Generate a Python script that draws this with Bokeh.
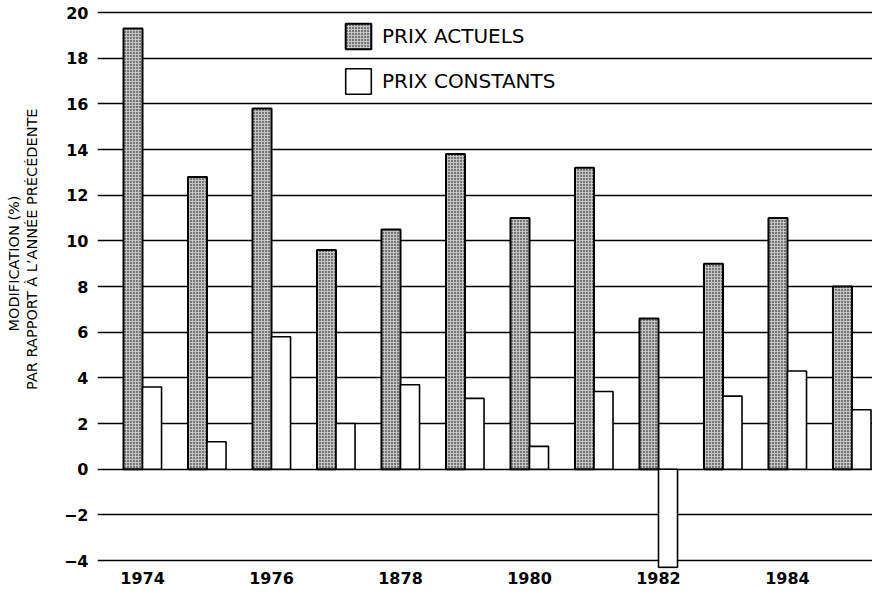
from bokeh.plotting import figure
from bokeh.models import ColumnDataSource, Range1d, FixedTicker, Legend, LegendItem, Title
from bokeh.transform import dodge
from bokeh.embed import file_html
from bokeh.resources import INLINE

# ---- data ----
years = [1974, 1975, 1976, 1977, 1978, 1979, 1980, 1981, 1982, 1983, 1984, 1985]
prix_actuels = [19.3, 12.8, 15.8, 9.6, 10.5, 13.8, 11.0, 13.2, 6.6, 9.0, 11.0, 8.0]
prix_constants = [3.6, 1.2, 5.8, 2.0, 3.7, 3.1, 1.0, 3.4, -4.3, 3.2, 4.3, 2.6]
x_ticks = [1974, 1976, 1978, 1980, 1982, 1984]
x_tick_labels = ["1974", "1976", "1878", "1980", "1982", "1984"]
y_ticks = [-4, -2, 0, 2, 4, 6, 8, 10, 12, 14, 16, 18, 20]
series_names = ["PRIX ACTUELS", "PRIX CONSTANTS"]
y_title_1 = "MODIFICATION (%)"
y_title_2 = "PAR RAPPORT À L\u2019ANNÉE PRÉCÉDENTE"

src = ColumnDataSource(dict(year=years, actuels=prix_actuels, constants=prix_constants))

BAR_W = 0.295

p = figure(width=872, height=589, output_backend="svg", toolbar_location=None,
           x_range=Range1d(1973.302, 1985.318), y_range=Range1d(-4.35, 20.526),
           min_border_left=97, min_border_right=0, min_border_top=0, min_border_bottom=21)
p.outline_line_color = None
p.background_fill_color = "white"
p.border_fill_color = "white"

# grid
p.xgrid.grid_line_color = None
p.ygrid.ticker = FixedTicker(ticks=y_ticks)
p.ygrid.grid_line_color = "black"
p.ygrid.grid_line_width = 1.4

# bars
r1 = p.vbar(x=dodge("year", -BAR_W / 2, range=p.x_range), top="actuels", bottom=0, width=BAR_W,
            source=src, fill_color="#c4c4c4", line_color="black", line_width=2,
            hatch_pattern="dot", hatch_color="black", hatch_scale=3.0, hatch_weight=1.3)
r2 = p.vbar(x=dodge("year", BAR_W / 2, range=p.x_range), top="constants", bottom=0, width=BAR_W,
            source=src, fill_color="white", line_color="black", line_width=1.6)

# axes
p.xaxis.ticker = FixedTicker(ticks=x_ticks)
p.xaxis.major_label_overrides = {t: l for t, l in zip(x_ticks, x_tick_labels)}
p.yaxis.ticker = FixedTicker(ticks=y_ticks)
for ax in (p.xaxis[0], p.yaxis[0]):
    ax.axis_line_color = None
    ax.major_tick_line_color = None
    ax.minor_tick_line_color = None
    ax.major_tick_out = 0
    ax.major_tick_in = 0
    ax.major_label_text_font = "DejaVu Sans"
    ax.major_label_text_font_style = "bold"
    ax.major_label_text_font_size = "16px"
    ax.major_label_text_color = "black"
p.xaxis.major_label_standoff = 3
p.yaxis.major_label_standoff = 9
p.yaxis.major_label_overrides = {t: str(t).replace("-", "\u2212") for t in y_ticks}

# y-axis title (two lines), placed as left titles with a thin spacer next to the axis
spacer = Title(text="\u00a0", standoff=18, text_font_size="1px", text_color="white")
t2 = Title(text=y_title_2, align="right", offset=108, standoff=0,
           text_font="DejaVu Sans", text_font_size="14.5px", text_font_style="normal",
           text_color="black")
t1 = Title(text=y_title_1, align="right", offset=195, standoff=0,
           text_font="DejaVu Sans", text_font_size="14.5px", text_font_style="normal",
           text_color="black")
p.add_layout(spacer, "left")
p.add_layout(t2, "left")
p.add_layout(t1, "left")

# legend
legend = Legend(items=[LegendItem(label=series_names[0], renderers=[r1]),
                       LegendItem(label=series_names[1], renderers=[r2])],
                location=(245, 471), orientation="vertical",
                glyph_width=32, glyph_height=32, label_height=32, label_width=10,
                spacing=13, padding=0, margin=0, label_standoff=8,
                background_fill_alpha=0, border_line_color=None,
                label_text_font="DejaVu Sans", label_text_font_size="20px",
                label_text_color="black")
p.add_layout(legend)

open("out.html", "w").write(file_html(p, INLINE))
